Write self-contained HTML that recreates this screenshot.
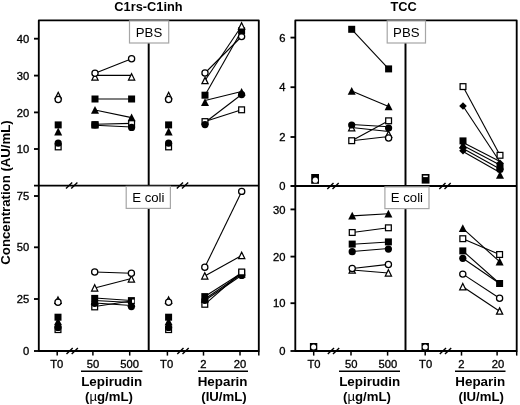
<!DOCTYPE html>
<html><head><meta charset="utf-8"><style>
html,body{margin:0;padding:0;background:#fff;}
svg{display:block;filter:grayscale(1);}
text{font-family:"Liberation Sans",sans-serif;fill:#000;}
</style></head><body>
<svg width="520" height="405" viewBox="0 0 520 405">
<rect x="0" y="0" width="520" height="405" fill="#fff"/>
<rect x="38.8" y="20.4" width="220.0" height="330.6" fill="none" stroke="#000" stroke-width="1.85" stroke-linejoin="round"/>
<line x1="34.0" y1="185.6" x2="258.8" y2="185.6" stroke="#000" stroke-width="1.85"/>
<line x1="34.0" y1="351.0" x2="38.8" y2="351.0" stroke="#000" stroke-width="1.85"/>
<line x1="148.7" y1="20.4" x2="148.7" y2="351.0" stroke="#000" stroke-width="1.95"/>
<line x1="34.0" y1="38.7" x2="38.8" y2="38.7" stroke="#000" stroke-width="1.85"/>
<line x1="34.0" y1="75.6" x2="38.8" y2="75.6" stroke="#000" stroke-width="1.85"/>
<line x1="34.0" y1="112.4" x2="38.8" y2="112.4" stroke="#000" stroke-width="1.85"/>
<line x1="34.0" y1="149.0" x2="38.8" y2="149.0" stroke="#000" stroke-width="1.85"/>
<line x1="34.0" y1="196.0" x2="38.8" y2="196.0" stroke="#000" stroke-width="1.85"/>
<line x1="34.0" y1="247.3" x2="38.8" y2="247.3" stroke="#000" stroke-width="1.85"/>
<line x1="34.0" y1="299.0" x2="38.8" y2="299.0" stroke="#000" stroke-width="1.85"/>
<line x1="57.2" y1="351.0" x2="57.2" y2="355.6" stroke="#000" stroke-width="1.5"/>
<line x1="92.9" y1="351.0" x2="92.9" y2="355.6" stroke="#000" stroke-width="1.5"/>
<line x1="129.7" y1="351.0" x2="129.7" y2="355.6" stroke="#000" stroke-width="1.5"/>
<line x1="167.4" y1="351.0" x2="167.4" y2="355.6" stroke="#000" stroke-width="1.5"/>
<line x1="203.5" y1="351.0" x2="203.5" y2="355.6" stroke="#000" stroke-width="1.5"/>
<line x1="240.0" y1="351.0" x2="240.0" y2="355.6" stroke="#000" stroke-width="1.5"/>
<line x1="66.0" y1="188.5" x2="72.2" y2="182.4" stroke="#000" stroke-width="1.4"/>
<line x1="71.2" y1="188.5" x2="77.4" y2="182.4" stroke="#000" stroke-width="1.4"/>
<line x1="66.5" y1="354.0" x2="72.7" y2="347.9" stroke="#000" stroke-width="1.4"/>
<line x1="71.7" y1="354.0" x2="77.9" y2="347.9" stroke="#000" stroke-width="1.4"/>
<line x1="176.8" y1="188.5" x2="183.0" y2="182.4" stroke="#000" stroke-width="1.4"/>
<line x1="182.0" y1="188.5" x2="188.20000000000002" y2="182.4" stroke="#000" stroke-width="1.4"/>
<line x1="177.3" y1="354.0" x2="183.5" y2="347.9" stroke="#000" stroke-width="1.4"/>
<line x1="182.5" y1="354.0" x2="188.70000000000002" y2="347.9" stroke="#000" stroke-width="1.4"/>
<rect x="295.3" y="20.4" width="221.40000000000003" height="330.6" fill="none" stroke="#000" stroke-width="1.85" stroke-linejoin="round"/>
<line x1="290.5" y1="186.0" x2="516.7" y2="186.0" stroke="#000" stroke-width="1.85"/>
<line x1="290.5" y1="351.0" x2="295.3" y2="351.0" stroke="#000" stroke-width="1.85"/>
<line x1="405.5" y1="20.4" x2="405.5" y2="351.0" stroke="#000" stroke-width="1.95"/>
<line x1="290.5" y1="37.6" x2="295.3" y2="37.6" stroke="#000" stroke-width="1.85"/>
<line x1="290.5" y1="87.2" x2="295.3" y2="87.2" stroke="#000" stroke-width="1.85"/>
<line x1="290.5" y1="137.0" x2="295.3" y2="137.0" stroke="#000" stroke-width="1.85"/>
<line x1="290.5" y1="209.4" x2="295.3" y2="209.4" stroke="#000" stroke-width="1.85"/>
<line x1="290.5" y1="256.6" x2="295.3" y2="256.6" stroke="#000" stroke-width="1.85"/>
<line x1="290.5" y1="303.2" x2="295.3" y2="303.2" stroke="#000" stroke-width="1.85"/>
<line x1="313.7" y1="351.0" x2="313.7" y2="355.6" stroke="#000" stroke-width="1.5"/>
<line x1="351.0" y1="351.0" x2="351.0" y2="355.6" stroke="#000" stroke-width="1.5"/>
<line x1="387.6" y1="351.0" x2="387.6" y2="355.6" stroke="#000" stroke-width="1.5"/>
<line x1="425.2" y1="351.0" x2="425.2" y2="355.6" stroke="#000" stroke-width="1.5"/>
<line x1="461.5" y1="351.0" x2="461.5" y2="355.6" stroke="#000" stroke-width="1.5"/>
<line x1="497.1" y1="351.0" x2="497.1" y2="355.6" stroke="#000" stroke-width="1.5"/>
<line x1="327.3" y1="189.0" x2="333.5" y2="182.9" stroke="#000" stroke-width="1.4"/>
<line x1="332.5" y1="189.0" x2="338.7" y2="182.9" stroke="#000" stroke-width="1.4"/>
<line x1="327.8" y1="354.0" x2="334.0" y2="347.9" stroke="#000" stroke-width="1.4"/>
<line x1="333.0" y1="354.0" x2="339.2" y2="347.9" stroke="#000" stroke-width="1.4"/>
<line x1="439.3" y1="189.0" x2="445.5" y2="182.9" stroke="#000" stroke-width="1.4"/>
<line x1="444.5" y1="189.0" x2="450.7" y2="182.9" stroke="#000" stroke-width="1.4"/>
<line x1="439.8" y1="354.0" x2="446.0" y2="347.9" stroke="#000" stroke-width="1.4"/>
<line x1="445.0" y1="354.0" x2="451.2" y2="347.9" stroke="#000" stroke-width="1.4"/>
<line x1="258.8" y1="351.0" x2="258.8" y2="355.6" stroke="#000" stroke-width="1.5"/>
<line x1="516.7" y1="351.0" x2="516.7" y2="355.6" stroke="#000" stroke-width="1.5"/>
<polygon points="58.2,92.3 61.300000000000004,98.6 55.1,98.6" fill="#fff" stroke="#000" stroke-width="1.25" stroke-linejoin="miter"/>
<circle cx="58.2" cy="99.4" r="3.1" fill="#fff" stroke="#000" stroke-width="1.25"/>
<polygon points="58.2,127.6 62.2,135.39999999999998 54.2,135.39999999999998" fill="#000"/>
<rect x="54.7" y="121.4" width="7.0" height="7.0" fill="#000"/>
<rect x="55.300000000000004" y="144.0" width="5.8" height="5.8" fill="#fff" stroke="#000" stroke-width="1.25"/>
<circle cx="58.2" cy="143.2" r="3.6" fill="#000"/>
<polygon points="168.6,92.3 171.7,98.6 165.5,98.6" fill="#fff" stroke="#000" stroke-width="1.25" stroke-linejoin="miter"/>
<circle cx="168.6" cy="99.4" r="3.1" fill="#fff" stroke="#000" stroke-width="1.25"/>
<polygon points="168.6,127.6 172.6,135.39999999999998 164.6,135.39999999999998" fill="#000"/>
<rect x="165.1" y="121.4" width="7.0" height="7.0" fill="#000"/>
<rect x="165.7" y="144.0" width="5.8" height="5.8" fill="#fff" stroke="#000" stroke-width="1.25"/>
<circle cx="168.6" cy="143.2" r="3.6" fill="#000"/>
<line x1="95.0" y1="75.4" x2="131.6" y2="75.4" stroke="#000" stroke-width="1.1"/>
<line x1="95.0" y1="73.3" x2="131.6" y2="58.7" stroke="#000" stroke-width="1.1"/>
<line x1="95.0" y1="99.0" x2="131.6" y2="99.0" stroke="#000" stroke-width="1.1"/>
<line x1="95.0" y1="110.0" x2="131.6" y2="117.6" stroke="#000" stroke-width="1.1"/>
<line x1="95.0" y1="124.2" x2="131.6" y2="123.4" stroke="#000" stroke-width="1.1"/>
<line x1="95.0" y1="125.2" x2="131.6" y2="127.0" stroke="#000" stroke-width="1.1"/>
<polygon points="95.0,73.7 98.1,80.0 91.9,80.0" fill="#fff" stroke="#000" stroke-width="1.25" stroke-linejoin="miter"/>
<circle cx="95.0" cy="73.3" r="3.1" fill="#fff" stroke="#000" stroke-width="1.25"/>
<rect x="91.5" y="95.5" width="7.0" height="7.0" fill="#000"/>
<polygon points="95.0,105.9 99.0,113.7 91.0,113.7" fill="#000"/>
<rect x="92.1" y="122.1" width="5.8" height="5.8" fill="#fff" stroke="#000" stroke-width="1.25"/>
<circle cx="95.0" cy="125.0" r="3.6" fill="#000"/>
<rect x="91.5" y="121.2" width="7.0" height="7.0" fill="#000"/>
<polygon points="131.6,73.7 134.7,80.0 128.5,80.0" fill="#fff" stroke="#000" stroke-width="1.25" stroke-linejoin="miter"/>
<circle cx="131.6" cy="58.7" r="3.1" fill="#fff" stroke="#000" stroke-width="1.25"/>
<rect x="128.1" y="95.5" width="7.0" height="7.0" fill="#000"/>
<polygon points="131.6,113.5 135.6,121.3 127.6,121.3" fill="#000"/>
<rect x="128.7" y="120.69999999999999" width="5.8" height="5.8" fill="#fff" stroke="#000" stroke-width="1.25"/>
<circle cx="131.6" cy="127.4" r="3.6" fill="#000"/>
<line x1="205.0" y1="73.0" x2="241.6" y2="36.5" stroke="#000" stroke-width="1.1"/>
<line x1="205.0" y1="80.5" x2="241.6" y2="26.0" stroke="#000" stroke-width="1.1"/>
<line x1="205.0" y1="95.2" x2="241.6" y2="30.8" stroke="#000" stroke-width="1.1"/>
<line x1="205.0" y1="100.5" x2="241.6" y2="91.5" stroke="#000" stroke-width="1.1"/>
<line x1="205.0" y1="122.5" x2="241.6" y2="94.5" stroke="#000" stroke-width="1.1"/>
<line x1="205.0" y1="121.5" x2="241.6" y2="109.8" stroke="#000" stroke-width="1.1"/>
<polygon points="205.0,77.4 208.1,83.7 201.9,83.7" fill="#fff" stroke="#000" stroke-width="1.25" stroke-linejoin="miter"/>
<circle cx="205.0" cy="73.0" r="3.1" fill="#fff" stroke="#000" stroke-width="1.25"/>
<polygon points="205.0,98.2 209.0,106.0 201.0,106.0" fill="#000"/>
<rect x="201.5" y="91.7" width="7.0" height="7.0" fill="#000"/>
<rect x="202.1" y="118.69999999999999" width="5.8" height="5.8" fill="#fff" stroke="#000" stroke-width="1.25"/>
<circle cx="205.0" cy="124.6" r="3.6" fill="#000"/>
<circle cx="241.6" cy="94.6" r="3.6" fill="#000"/>
<polygon points="241.6,87.9 245.6,95.7 237.6,95.7" fill="#000"/>
<rect x="238.7" y="106.89999999999999" width="5.8" height="5.8" fill="#fff" stroke="#000" stroke-width="1.25"/>
<circle cx="241.6" cy="36.6" r="3.1" fill="#fff" stroke="#000" stroke-width="1.25"/>
<rect x="238.1" y="27.3" width="7.0" height="7.0" fill="#000"/>
<polygon points="241.6,22.7 244.7,29.0 238.5,29.0" fill="#fff" stroke="#000" stroke-width="1.25" stroke-linejoin="miter"/>
<polygon points="58.0,297.0 61.1,303.3 54.9,303.3" fill="#fff" stroke="#000" stroke-width="1.25" stroke-linejoin="miter"/>
<circle cx="58.0" cy="302.3" r="3.1" fill="#fff" stroke="#000" stroke-width="1.25"/>
<polygon points="58.0,317.5 62.0,325.3 54.0,325.3" fill="#000"/>
<rect x="54.5" y="313.7" width="7.0" height="7.0" fill="#000"/>
<rect x="55.1" y="326.70000000000005" width="5.8" height="5.8" fill="#fff" stroke="#000" stroke-width="1.25"/>
<circle cx="58.0" cy="327.4" r="3.6" fill="#000"/>
<polygon points="168.6,297.0 171.7,303.3 165.5,303.3" fill="#fff" stroke="#000" stroke-width="1.25" stroke-linejoin="miter"/>
<circle cx="168.6" cy="302.3" r="3.1" fill="#fff" stroke="#000" stroke-width="1.25"/>
<polygon points="168.6,317.5 172.6,325.3 164.6,325.3" fill="#000"/>
<rect x="165.1" y="313.7" width="7.0" height="7.0" fill="#000"/>
<rect x="165.7" y="326.70000000000005" width="5.8" height="5.8" fill="#fff" stroke="#000" stroke-width="1.25"/>
<circle cx="168.6" cy="327.4" r="3.6" fill="#000"/>
<line x1="94.7" y1="272.0" x2="131.4" y2="273.2" stroke="#000" stroke-width="1.1"/>
<line x1="94.7" y1="288.0" x2="131.4" y2="278.5" stroke="#000" stroke-width="1.1"/>
<line x1="94.7" y1="298.0" x2="131.4" y2="300.5" stroke="#000" stroke-width="1.1"/>
<line x1="94.7" y1="300.5" x2="131.4" y2="302.5" stroke="#000" stroke-width="1.1"/>
<line x1="94.7" y1="303.0" x2="131.4" y2="305.5" stroke="#000" stroke-width="1.1"/>
<line x1="94.7" y1="306.5" x2="131.4" y2="301.0" stroke="#000" stroke-width="1.1"/>
<circle cx="94.7" cy="272.0" r="3.1" fill="#fff" stroke="#000" stroke-width="1.25"/>
<polygon points="94.7,284.7 97.8,291.0 91.60000000000001,291.0" fill="#fff" stroke="#000" stroke-width="1.25" stroke-linejoin="miter"/>
<rect x="91.8" y="304.0" width="5.8" height="5.8" fill="#fff" stroke="#000" stroke-width="1.25"/>
<circle cx="94.7" cy="303.3" r="3.6" fill="#000"/>
<polygon points="94.7,296.9 98.7,304.7 90.7,304.7" fill="#000"/>
<rect x="91.2" y="294.9" width="7.0" height="7.0" fill="#000"/>
<polygon points="131.4,275.7 134.5,282.0 128.3,282.0" fill="#fff" stroke="#000" stroke-width="1.25" stroke-linejoin="miter"/>
<circle cx="131.4" cy="273.2" r="3.1" fill="#fff" stroke="#000" stroke-width="1.25"/>
<rect x="127.9" y="297.1" width="7.0" height="7.0" fill="#000"/>
<polygon points="131.4,298.9 135.4,306.7 127.4,306.7" fill="#000"/>
<circle cx="131.4" cy="306.6" r="3.6" fill="#000"/>
<rect x="132.0" y="299.6" width="2.2" height="3.2" fill="#fff"/>
<line x1="204.8" y1="267.3" x2="241.7" y2="191.4" stroke="#000" stroke-width="1.1"/>
<line x1="204.8" y1="276.0" x2="241.7" y2="255.5" stroke="#000" stroke-width="1.1"/>
<line x1="204.8" y1="296.5" x2="241.7" y2="273.0" stroke="#000" stroke-width="1.1"/>
<line x1="204.8" y1="299.0" x2="241.7" y2="274.0" stroke="#000" stroke-width="1.1"/>
<line x1="204.8" y1="300.5" x2="241.7" y2="275.3" stroke="#000" stroke-width="1.1"/>
<line x1="204.8" y1="304.3" x2="241.7" y2="272.0" stroke="#000" stroke-width="1.1"/>
<circle cx="204.8" cy="267.3" r="3.1" fill="#fff" stroke="#000" stroke-width="1.25"/>
<polygon points="204.8,272.7 207.9,279.0 201.70000000000002,279.0" fill="#fff" stroke="#000" stroke-width="1.25" stroke-linejoin="miter"/>
<rect x="201.9" y="301.40000000000003" width="5.8" height="5.8" fill="#fff" stroke="#000" stroke-width="1.25"/>
<circle cx="204.8" cy="300.3" r="3.6" fill="#000"/>
<polygon points="204.8,294.9 208.8,302.7 200.8,302.7" fill="#000"/>
<rect x="201.3" y="293.1" width="7.0" height="7.0" fill="#000"/>
<circle cx="241.7" cy="191.4" r="3.1" fill="#fff" stroke="#000" stroke-width="1.25"/>
<polygon points="241.7,252.2 244.79999999999998,258.5 238.6,258.5" fill="#fff" stroke="#000" stroke-width="1.25" stroke-linejoin="miter"/>
<circle cx="241.7" cy="275.4" r="3.6" fill="#000"/>
<polygon points="241.7,269.9 245.7,277.7 237.7,277.7" fill="#000"/>
<rect x="238.2" y="269.5" width="7.0" height="7.0" fill="#000"/>
<rect x="238.79999999999998" y="269.1" width="5.8" height="5.8" fill="#fff" stroke="#000" stroke-width="1.25"/>
<rect x="311.20000000000005" y="174.0" width="7.8" height="9.8" fill="#000"/>
<rect x="421.70000000000005" y="174.0" width="7.8" height="9.6" fill="#000"/>
<circle cx="315.3" cy="180.2" r="2.6" fill="#fff"/>
<rect x="423.2" y="175.6" width="4.6" height="1.5" fill="#fff"/>
<line x1="351.7" y1="29.3" x2="388.6" y2="68.9" stroke="#000" stroke-width="1.1"/>
<line x1="351.7" y1="91.0" x2="388.6" y2="106.5" stroke="#000" stroke-width="1.1"/>
<line x1="351.7" y1="124.5" x2="388.6" y2="126.8" stroke="#000" stroke-width="1.1"/>
<line x1="351.7" y1="127.5" x2="388.6" y2="131.5" stroke="#000" stroke-width="1.1"/>
<line x1="351.7" y1="140.7" x2="388.6" y2="120.8" stroke="#000" stroke-width="1.1"/>
<line x1="351.7" y1="140.7" x2="388.6" y2="136.5" stroke="#000" stroke-width="1.1"/>
<rect x="348.2" y="25.8" width="7.0" height="7.0" fill="#000"/>
<polygon points="351.7,86.9 355.7,94.7 347.7,94.7" fill="#000"/>
<polygon points="351.7,124.5 354.8,130.8 348.59999999999997,130.8" fill="#fff" stroke="#000" stroke-width="1.25" stroke-linejoin="miter"/>
<circle cx="351.7" cy="125.0" r="3.6" fill="#000"/>
<rect x="348.8" y="137.79999999999998" width="5.8" height="5.8" fill="#fff" stroke="#000" stroke-width="1.25"/>
<rect x="385.1" y="65.4" width="7.0" height="7.0" fill="#000"/>
<polygon points="388.6,102.4 392.6,110.2 384.6,110.2" fill="#000"/>
<rect x="385.70000000000005" y="117.89999999999999" width="5.8" height="5.8" fill="#fff" stroke="#000" stroke-width="1.25"/>
<polygon points="388.6,131.0 391.70000000000005,137.3 385.5,137.3" fill="#fff" stroke="#000" stroke-width="1.25" stroke-linejoin="miter"/>
<circle cx="388.6" cy="138.0" r="3.1" fill="#fff" stroke="#000" stroke-width="1.25"/>
<circle cx="388.6" cy="128.0" r="3.6" fill="#000"/>
<line x1="463.0" y1="86.6" x2="500.0" y2="155.3" stroke="#000" stroke-width="1.1"/>
<line x1="463.0" y1="106.0" x2="500.0" y2="162.0" stroke="#000" stroke-width="1.1"/>
<line x1="463.0" y1="142.5" x2="500.0" y2="161.5" stroke="#000" stroke-width="1.1"/>
<line x1="463.0" y1="145.5" x2="500.0" y2="165.0" stroke="#000" stroke-width="1.1"/>
<line x1="463.0" y1="148.5" x2="500.0" y2="169.0" stroke="#000" stroke-width="1.1"/>
<line x1="463.0" y1="151.5" x2="500.0" y2="172.5" stroke="#000" stroke-width="1.1"/>
<rect x="460.1" y="83.69999999999999" width="5.8" height="5.8" fill="#fff" stroke="#000" stroke-width="1.25"/>
<polygon points="463.0,102.2 466.8,106.0 463.0,109.8 459.2,106.0" fill="#000"/>
<polygon points="463.0,146.89999999999998 466.8,150.7 463.0,154.5 459.2,150.7" fill="#000"/>
<polygon points="463.0,144.0 466.8,147.8 463.0,151.60000000000002 459.2,147.8" fill="#000"/>
<polygon points="463.0,140.70000000000002 467.0,148.5 459.0,148.5" fill="#000"/>
<rect x="459.5" y="137.4" width="7.0" height="7.0" fill="#000"/>
<rect x="497.1" y="152.4" width="5.8" height="5.8" fill="#fff" stroke="#000" stroke-width="1.25"/>
<polygon points="500.0,170.9 504.0,178.7 496.0,178.7" fill="#000"/>
<circle cx="500.0" cy="169.5" r="3.6" fill="#000"/>
<rect x="496.5" y="163.0" width="7.0" height="7.0" fill="#000"/>
<polygon points="500.0,159.5 503.8,163.3 500.0,167.10000000000002 496.2,163.3" fill="#000"/>
<rect x="309.9" y="343.0" width="7.4" height="7.5" fill="#000"/>
<circle cx="313.6" cy="347.0" r="2.5" fill="#fff"/>
<rect x="421.5" y="343.0" width="7.4" height="7.5" fill="#000"/>
<circle cx="425.2" cy="347.0" r="2.5" fill="#fff"/>
<line x1="352.2" y1="215.9" x2="388.4" y2="213.8" stroke="#000" stroke-width="1.1"/>
<line x1="352.2" y1="232.5" x2="388.4" y2="227.8" stroke="#000" stroke-width="1.1"/>
<line x1="352.2" y1="244.3" x2="388.4" y2="242.0" stroke="#000" stroke-width="1.1"/>
<line x1="352.2" y1="251.5" x2="388.4" y2="248.5" stroke="#000" stroke-width="1.1"/>
<line x1="352.2" y1="268.5" x2="388.4" y2="264.4" stroke="#000" stroke-width="1.1"/>
<line x1="352.2" y1="270.0" x2="388.4" y2="273.0" stroke="#000" stroke-width="1.1"/>
<polygon points="352.2,211.8 356.2,219.6 348.2,219.6" fill="#000"/>
<rect x="349.3" y="229.6" width="5.8" height="5.8" fill="#fff" stroke="#000" stroke-width="1.25"/>
<rect x="348.7" y="240.6" width="7.0" height="7.0" fill="#000"/>
<circle cx="352.2" cy="251.7" r="3.6" fill="#000"/>
<polygon points="352.2,266.7 355.3,273.0 349.09999999999997,273.0" fill="#fff" stroke="#000" stroke-width="1.25" stroke-linejoin="miter"/>
<circle cx="352.2" cy="268.5" r="3.1" fill="#fff" stroke="#000" stroke-width="1.25"/>
<polygon points="388.4,209.70000000000002 392.4,217.5 384.4,217.5" fill="#000"/>
<rect x="385.5" y="224.9" width="5.8" height="5.8" fill="#fff" stroke="#000" stroke-width="1.25"/>
<rect x="384.9" y="238.4" width="7.0" height="7.0" fill="#000"/>
<circle cx="388.4" cy="249.1" r="3.6" fill="#000"/>
<polygon points="388.4,269.7 391.5,276.0 385.29999999999995,276.0" fill="#fff" stroke="#000" stroke-width="1.25" stroke-linejoin="miter"/>
<circle cx="388.4" cy="264.4" r="3.1" fill="#fff" stroke="#000" stroke-width="1.25"/>
<line x1="462.8" y1="228.3" x2="499.6" y2="261.7" stroke="#000" stroke-width="1.1"/>
<line x1="462.8" y1="238.7" x2="499.6" y2="254.5" stroke="#000" stroke-width="1.1"/>
<line x1="462.8" y1="250.9" x2="499.6" y2="283.5" stroke="#000" stroke-width="1.1"/>
<line x1="462.8" y1="258.3" x2="499.6" y2="283.5" stroke="#000" stroke-width="1.1"/>
<line x1="462.8" y1="274.1" x2="499.6" y2="298.3" stroke="#000" stroke-width="1.1"/>
<line x1="462.8" y1="286.8" x2="499.6" y2="311.2" stroke="#000" stroke-width="1.1"/>
<polygon points="462.8,224.20000000000002 466.8,232.0 458.8,232.0" fill="#000"/>
<rect x="459.90000000000003" y="235.79999999999998" width="5.8" height="5.8" fill="#fff" stroke="#000" stroke-width="1.25"/>
<rect x="459.3" y="247.4" width="7.0" height="7.0" fill="#000"/>
<circle cx="462.8" cy="258.3" r="3.6" fill="#000"/>
<circle cx="462.8" cy="274.1" r="3.1" fill="#fff" stroke="#000" stroke-width="1.25"/>
<polygon points="462.8,283.5 465.90000000000003,289.8 459.7,289.8" fill="#fff" stroke="#000" stroke-width="1.25" stroke-linejoin="miter"/>
<rect x="496.70000000000005" y="251.6" width="5.8" height="5.8" fill="#fff" stroke="#000" stroke-width="1.25"/>
<polygon points="499.6,257.59999999999997 503.6,265.4 495.6,265.4" fill="#000"/>
<rect x="496.1" y="280.0" width="7.0" height="7.0" fill="#000"/>
<circle cx="499.6" cy="298.3" r="3.1" fill="#fff" stroke="#000" stroke-width="1.25"/>
<polygon points="499.6,307.9 502.70000000000005,314.2 496.5,314.2" fill="#fff" stroke="#000" stroke-width="1.25" stroke-linejoin="miter"/>
<rect x="129.5" y="20.9" width="39.19999999999999" height="22.1" fill="#fff" stroke="#a6a6a6" stroke-width="1.2"/>
<text x="149.0" y="36.9" font-size="13.2" text-anchor="middle" font-weight="normal" >PBS</text>
<rect x="126.2" y="186.4" width="44.2" height="22.0" fill="#fff" stroke="#a6a6a6" stroke-width="1.2"/>
<text x="148.3" y="202.1" font-size="13.2" text-anchor="middle" font-weight="normal" >E coli</text>
<rect x="387.2" y="20.9" width="38.30000000000001" height="22.1" fill="#fff" stroke="#a6a6a6" stroke-width="1.2"/>
<text x="406.3" y="36.9" font-size="13.2" text-anchor="middle" font-weight="normal" >PBS</text>
<rect x="384.9" y="186.9" width="44.10000000000002" height="21.69999999999999" fill="#fff" stroke="#a6a6a6" stroke-width="1.2"/>
<text x="406.9" y="202.1" font-size="13.2" text-anchor="middle" font-weight="normal" >E coli</text>
<text x="0" y="0" font-size="10.3" text-anchor="end" font-weight="normal" transform="translate(29.2,42.800000000000004) scale(1.09,1)" stroke="#000" stroke-width="0.3" >40</text>
<text x="0" y="0" font-size="10.3" text-anchor="end" font-weight="normal" transform="translate(29.2,79.69999999999999) scale(1.09,1)" stroke="#000" stroke-width="0.3" >30</text>
<text x="0" y="0" font-size="10.3" text-anchor="end" font-weight="normal" transform="translate(29.2,116.5) scale(1.09,1)" stroke="#000" stroke-width="0.3" >20</text>
<text x="0" y="0" font-size="10.3" text-anchor="end" font-weight="normal" transform="translate(29.2,153.1) scale(1.09,1)" stroke="#000" stroke-width="0.3" >10</text>
<text x="0" y="0" font-size="10.3" text-anchor="end" font-weight="normal" transform="translate(29.2,200.1) scale(1.09,1)" stroke="#000" stroke-width="0.3" >75</text>
<text x="0" y="0" font-size="10.3" text-anchor="end" font-weight="normal" transform="translate(29.2,251.4) scale(1.09,1)" stroke="#000" stroke-width="0.3" >50</text>
<text x="0" y="0" font-size="10.3" text-anchor="end" font-weight="normal" transform="translate(29.2,303.1) scale(1.09,1)" stroke="#000" stroke-width="0.3" >25</text>
<text x="0" y="0" font-size="10.3" text-anchor="end" font-weight="normal" transform="translate(29.2,355.0) scale(1.09,1)" stroke="#000" stroke-width="0.3" >0</text>
<text x="0" y="0" font-size="10.3" text-anchor="end" font-weight="normal" transform="translate(285.4,41.7) scale(1.09,1)" stroke="#000" stroke-width="0.3" >6</text>
<text x="0" y="0" font-size="10.3" text-anchor="end" font-weight="normal" transform="translate(285.4,91.3) scale(1.09,1)" stroke="#000" stroke-width="0.3" >4</text>
<text x="0" y="0" font-size="10.3" text-anchor="end" font-weight="normal" transform="translate(285.4,141.1) scale(1.09,1)" stroke="#000" stroke-width="0.3" >2</text>
<text x="0" y="0" font-size="10.3" text-anchor="end" font-weight="normal" transform="translate(285.4,213.5) scale(1.09,1)" stroke="#000" stroke-width="0.3" >30</text>
<text x="0" y="0" font-size="10.3" text-anchor="end" font-weight="normal" transform="translate(285.4,260.70000000000005) scale(1.09,1)" stroke="#000" stroke-width="0.3" >20</text>
<text x="0" y="0" font-size="10.3" text-anchor="end" font-weight="normal" transform="translate(285.4,307.3) scale(1.09,1)" stroke="#000" stroke-width="0.3" >10</text>
<text x="0" y="0" font-size="10.3" text-anchor="end" font-weight="normal" transform="translate(285.4,190.1) scale(1.09,1)" stroke="#000" stroke-width="0.3" >0</text>
<text x="0" y="0" font-size="10.3" text-anchor="end" font-weight="normal" transform="translate(285.4,355.0) scale(1.09,1)" stroke="#000" stroke-width="0.3" >0</text>
<text x="0" y="0" font-size="10.3" text-anchor="middle" font-weight="normal" transform="translate(56.8,367.6) scale(1.09,1)" stroke="#000" stroke-width="0.3" >T0</text>
<text x="0" y="0" font-size="10.3" text-anchor="middle" font-weight="normal" transform="translate(92.9,367.6) scale(1.09,1)" stroke="#000" stroke-width="0.3" >50</text>
<text x="0" y="0" font-size="10.3" text-anchor="middle" font-weight="normal" transform="translate(129.7,367.6) scale(1.09,1)" stroke="#000" stroke-width="0.3" >500</text>
<text x="0" y="0" font-size="10.3" text-anchor="middle" font-weight="normal" transform="translate(166.6,367.6) scale(1.09,1)" stroke="#000" stroke-width="0.3" >T0</text>
<text x="0" y="0" font-size="10.3" text-anchor="middle" font-weight="normal" transform="translate(203.5,367.6) scale(1.09,1)" stroke="#000" stroke-width="0.3" >2</text>
<text x="0" y="0" font-size="10.3" text-anchor="middle" font-weight="normal" transform="translate(240.0,367.6) scale(1.09,1)" stroke="#000" stroke-width="0.3" >20</text>
<text x="0" y="0" font-size="10.3" text-anchor="middle" font-weight="normal" transform="translate(314.0,367.6) scale(1.09,1)" stroke="#000" stroke-width="0.3" >T0</text>
<text x="0" y="0" font-size="10.3" text-anchor="middle" font-weight="normal" transform="translate(351.3,367.6) scale(1.09,1)" stroke="#000" stroke-width="0.3" >50</text>
<text x="0" y="0" font-size="10.3" text-anchor="middle" font-weight="normal" transform="translate(387.8,367.6) scale(1.09,1)" stroke="#000" stroke-width="0.3" >500</text>
<text x="0" y="0" font-size="10.3" text-anchor="middle" font-weight="normal" transform="translate(425.6,367.6) scale(1.09,1)" stroke="#000" stroke-width="0.3" >T0</text>
<text x="0" y="0" font-size="10.3" text-anchor="middle" font-weight="normal" transform="translate(461.5,367.6) scale(1.09,1)" stroke="#000" stroke-width="0.3" >2</text>
<text x="0" y="0" font-size="10.3" text-anchor="middle" font-weight="normal" transform="translate(497.9,367.6) scale(1.09,1)" stroke="#000" stroke-width="0.3" >20</text>
<line x1="81.0" y1="371.3" x2="142.4" y2="371.3" stroke="#000" stroke-width="1.4"/>
<line x1="198.0" y1="371.3" x2="248.0" y2="371.3" stroke="#000" stroke-width="1.4"/>
<line x1="339.0" y1="371.3" x2="400.0" y2="371.3" stroke="#000" stroke-width="1.4"/>
<line x1="455.0" y1="371.3" x2="505.5" y2="371.3" stroke="#000" stroke-width="1.4"/>
<text x="111.7" y="385.7" font-size="13.4" text-anchor="middle" font-weight="bold" >Lepirudin</text>
<text x="109.0" y="400.6" font-size="13.2" text-anchor="middle" font-weight="bold" >(<tspan font-weight="normal">µ</tspan>g/mL)</text>
<text x="222.6" y="385.7" font-size="13.4" text-anchor="middle" font-weight="bold" >Heparin</text>
<text x="224.0" y="400.6" font-size="13.2" text-anchor="middle" font-weight="bold" >(IU/mL)</text>
<text x="369.7" y="385.7" font-size="13.4" text-anchor="middle" font-weight="bold" >Lepirudin</text>
<text x="367.0" y="400.6" font-size="13.2" text-anchor="middle" font-weight="bold" >(<tspan font-weight="normal">µ</tspan>g/mL)</text>
<text x="480.2" y="385.7" font-size="13.4" text-anchor="middle" font-weight="bold" >Heparin</text>
<text x="481.2" y="400.6" font-size="13.2" text-anchor="middle" font-weight="bold" >(IU/mL)</text>
<text x="148.5" y="10.8" font-size="12.8" text-anchor="middle" font-weight="bold" >C1rs-C1inh</text>
<text x="403.7" y="10.8" font-size="12.8" text-anchor="middle" font-weight="bold" >TCC</text>
<text x="0" y="0" font-size="13.2" font-weight="bold" text-anchor="middle" transform="translate(10.4,192.5) rotate(-90)">Concentration (AU/mL)</text>
</svg>
</body></html>
